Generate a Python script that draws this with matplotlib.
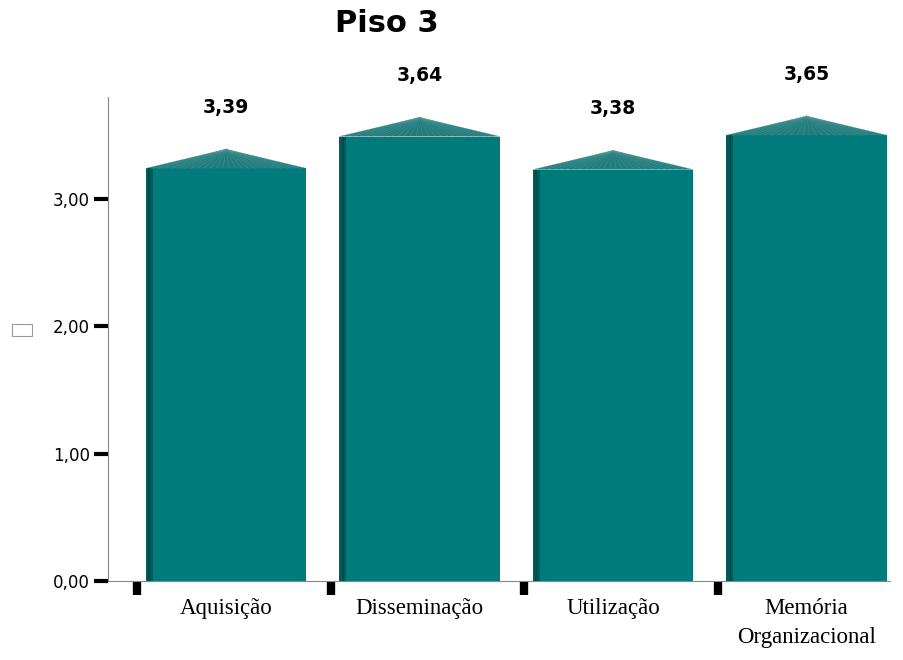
import matplotlib.pyplot as plt
from matplotlib.patches import Polygon, Rectangle
import numpy as np

# data
categories = ['Aquisição', 'Disseminação', 'Utilização', 'Memória\nOrganizacional']
values = [3.39, 3.64, 3.38, 3.65]
value_labels = ['3,39', '3,64', '3,38', '3,65']
yticks = [0, 1, 2, 3]
ytick_labels = ['0,00', '1,00', '2,00', '3,00']

teal = '#007b7b'
dark = '#005c5c'
roof = '#217c7c'
cap = 0.15      # height of the pyramid cap
width = 0.83

fig = plt.figure(figsize=[9.04, 6.6], dpi=100)
ax = fig.add_axes([0.1195, 0.1197, 0.865, 0.7333])

x = np.arange(len(categories))
body = [v - cap for v in values]

# bar bodies + dark left stripe
ax.bar(x, body, width=width, color=teal, zorder=2)
ax.bar(x - width / 2, body, width=0.035, align='edge', color=dark, zorder=3)
ax.bar(x - width / 2 + 0.012, body, width=0.012, align='edge', color='#004a4a', zorder=4)

# pyramid caps
for xi, v, b, lab in zip(x, values, body, value_labels):
    left, right = xi - width / 2, xi + width / 2
    ax.add_patch(Polygon([[left, b], [xi, v], [right, b]], closed=True,
                         facecolor=roof, edgecolor='none', zorder=3))
    for t in np.linspace(0, 1, 26):
        ax.plot([xi, left + t * width], [v, b], color='#5a9c9c', lw=0.4,
                alpha=0.6, zorder=4)
    ax.text(xi, v + 0.33, lab, ha='center', va='center', fontsize=13.5,
            fontweight='bold', family='DejaVu Sans')

ax.set_xlim(-0.61, 3.431)
ax.set_ylim(0, 3.8)

# spines
for s in ['top', 'right']:
    ax.spines[s].set_visible(False)
ax.spines['left'].set_color('#888888')
ax.spines['bottom'].set_color('#888888')

# y ticks
ax.set_yticks(yticks)
ax.set_yticklabels(ytick_labels, family='DejaVu Sans', fontsize=12)
ax.tick_params(axis='y', length=10, width=3, color='black', pad=3)

# x ticks: labels at centres, black marks between
ax.set_xticks(x)
ax.set_xticklabels(categories, family='Liberation Serif', fontsize=16.5,
                   linespacing=1.5)
ax.set_xticks(x - 0.46, minor=True)
ax.tick_params(axis='x', which='major', length=0, pad=12)
ax.tick_params(axis='x', which='minor', length=10, width=6, color='black')

# y axis title shows only as an empty glyph box in the original
fig.patches.append(Rectangle((12 / 904, 1 - 336 / 660), 20 / 904, 12 / 660,
                             transform=fig.transFigure, facecolor='white',
                             edgecolor='#999999', lw=0.8))

fig.text(387 / 904, 1 - 23 / 660, 'Piso 3', ha='center', va='center',
         fontsize=22, fontweight='bold', family='DejaVu Sans')

fig.savefig('out.png', dpi=100, facecolor='white')
